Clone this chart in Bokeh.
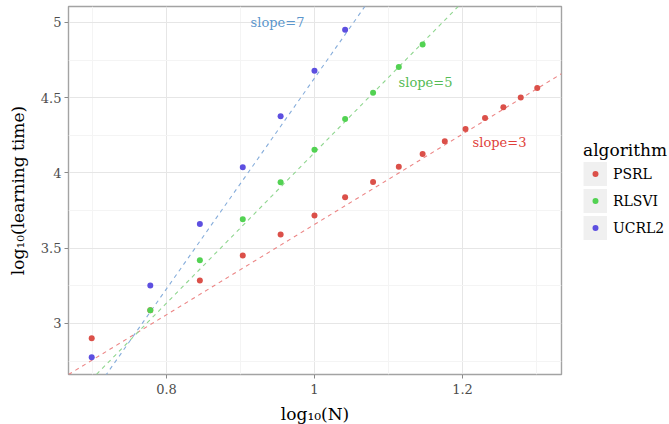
import numpy as np
from bokeh.plotting import figure
from bokeh.models import (ColumnDataSource, FixedTicker, Legend, LegendItem,
                          Range1d, PrintfTickFormatter)
from bokeh.embed import file_html
from bokeh.resources import INLINE
from bokeh.core.properties import value

# ---------------- data ----------------
algorithms = ["PSRL", "RLSVI", "UCRL2"]

psrl_n = [5, 6, 7, 8, 9, 10, 11, 12, 13, 14, 15, 16, 17, 18, 19, 20]
psrl_log_time = [2.902, 3.088, 3.286, 3.451, 3.591, 3.717, 3.839, 3.940, 4.042,
                 4.126, 4.211, 4.292, 4.365, 4.436, 4.502, 4.564]

rlsvi_n = [6, 7, 8, 9, 10, 11, 12, 13, 14]
rlsvi_log_time = [3.088, 3.420, 3.693, 3.938, 4.155, 4.358, 4.533, 4.704, 4.854]

ucrl2_n = [5, 6, 7, 8, 9, 10, 11]
ucrl2_log_time = [2.776, 3.252, 3.661, 4.038, 4.376, 4.679, 4.951]

# reference lines (log-log slopes)
line_slopes = [3, 5, 7]
line_intercepts = [0.658, -0.865, -2.37]
line_labels = ["slope=3", "slope=5", "slope=7"]
line_label_x = [1.25, 1.15, 0.95]
line_label_y = [4.2, 4.6, 5.0]

x_ticks = [0.8, 1.0, 1.2]
x_tick_labels = ["0.8", "1", "1.2"]
x_minor = [0.7, 0.9, 1.1, 1.3]
y_ticks = [3.0, 3.5, 4.0, 4.5, 5.0]
y_tick_labels = ["3", "3.5", "4", "4.5", "5"]
y_minor = [2.75, 3.25, 3.75, 4.25, 4.75]

x_lo, x_hi = 0.6676, 1.3338
y_lo, y_hi = 2.661, 5.106

# ---------------- styles ----------------
FONT = "DejaVu Serif"
point_colors = ["#DB5049", "#52D252", "#5D4FE0"]
line_colors = ["#EC8585", "#8FD68F", "#86ADDB"]
text_colors = ["#E03F3B", "#55BB55", "#5B96CC"]
KEY_BG = "#f0f0f0"

p = figure(frame_width=493, frame_height=368,
           min_border_left=68, min_border_right=100,
           min_border_top=6, min_border_bottom=50,
           x_range=Range1d(x_lo, x_hi), y_range=Range1d(y_lo, y_hi),
           output_backend="svg", toolbar_location=None,
           background_fill_color="white", border_fill_color="white")

p.outline_line_color = "#a3a3a3"
p.outline_line_width = 1.4

p.xaxis.ticker = FixedTicker(ticks=x_ticks, minor_ticks=x_minor)
p.yaxis.ticker = FixedTicker(ticks=y_ticks, minor_ticks=y_minor)
p.xaxis.formatter = PrintfTickFormatter(format="%g")
p.yaxis.formatter = PrintfTickFormatter(format="%g")
p.xaxis.major_label_overrides = dict(zip(x_ticks, x_tick_labels))
p.yaxis.major_label_overrides = dict(zip(y_ticks, y_tick_labels))

for ax in (p.xaxis, p.yaxis):
    ax.axis_line_color = None
    ax.major_tick_line_color = "#8a8a8a"
    ax.major_tick_in = 0
    ax.major_tick_out = 4
    ax.minor_tick_in = 0
    ax.minor_tick_out = 0
    ax.major_label_text_font = FONT
    ax.major_label_text_font_size = "13px"
    ax.major_label_text_color = "#4d4d4d"
    ax.axis_label_text_font = FONT
    ax.axis_label_text_font_size = "17px"
    ax.axis_label_text_font_style = "normal"
    ax.axis_label_text_color = "#000000"

p.xaxis.major_label_standoff = 5
p.yaxis.major_label_standoff = 3
p.xaxis.axis_label_standoff = 7
p.yaxis.axis_label_standoff = 10
p.xaxis.axis_label = "log₁₀(N)"
p.yaxis.axis_label = "log₁₀(learning time)"

for g in (p.xgrid, p.ygrid):
    g.grid_line_color = "#e6e6e6"
    g.grid_line_width = 1
    g.minor_grid_line_color = "#f4f4f4"
    g.minor_grid_line_width = 1

# reference lines, clipped to the frame
for slope, icpt, col in zip(line_slopes, line_intercepts, line_colors):
    xs = [x_lo, x_hi]
    ys = [slope * x_lo + icpt, slope * x_hi + icpt]
    p.line(xs, ys, line_color=col, line_width=1.1, line_dash="4 4")

# points
series = [(psrl_n, psrl_log_time), (rlsvi_n, rlsvi_log_time), (ucrl2_n, ucrl2_log_time)]
for (ns, ts), col in zip(series, point_colors):
    src = ColumnDataSource(dict(x=np.log10(ns), y=ts))
    p.scatter("x", "y", source=src, size=6, fill_color=col, line_color=None)

# slope annotations
lab_src = ColumnDataSource(dict(x=line_label_x, y=line_label_y, text=line_labels, color=text_colors))
p.text("x", "y", text="text", source=lab_src, text_color="color",
       text_font=value(FONT), text_font_size="13px",
       text_align="center", text_baseline="middle")

# legend (ggplot-style grey key boxes); legend-only renderers hold NaN so
# nothing shows in the plot area
nan = float("nan")
items = []
for name, col in zip(algorithms, point_colors):
    box = p.line(x=[nan, nan], y=[nan, nan], line_color=KEY_BG, line_width=24)
    dot = p.scatter(x=[nan], y=[nan], size=6, fill_color=col,
                    line_color=KEY_BG, line_width=3.6)
    items.append(LegendItem(label=name, renderers=[box, dot]))

legend = Legend(items=items, location=(22, 133), title="algorithm",
                glyph_width=24, glyph_height=27, label_height=27, spacing=0,
                padding=0, margin=0, label_standoff=6,
                border_line_color=None, background_fill_alpha=0,
                title_standoff=0,
                label_text_font=FONT, label_text_font_size="14px",
                label_text_color="#000000",
                title_text_font=FONT, title_text_font_size="17px",
                title_text_font_style="normal", title_text_color="#000000")
p.add_layout(legend, "right")

open("out.html", "w").write(file_html(p, INLINE))
